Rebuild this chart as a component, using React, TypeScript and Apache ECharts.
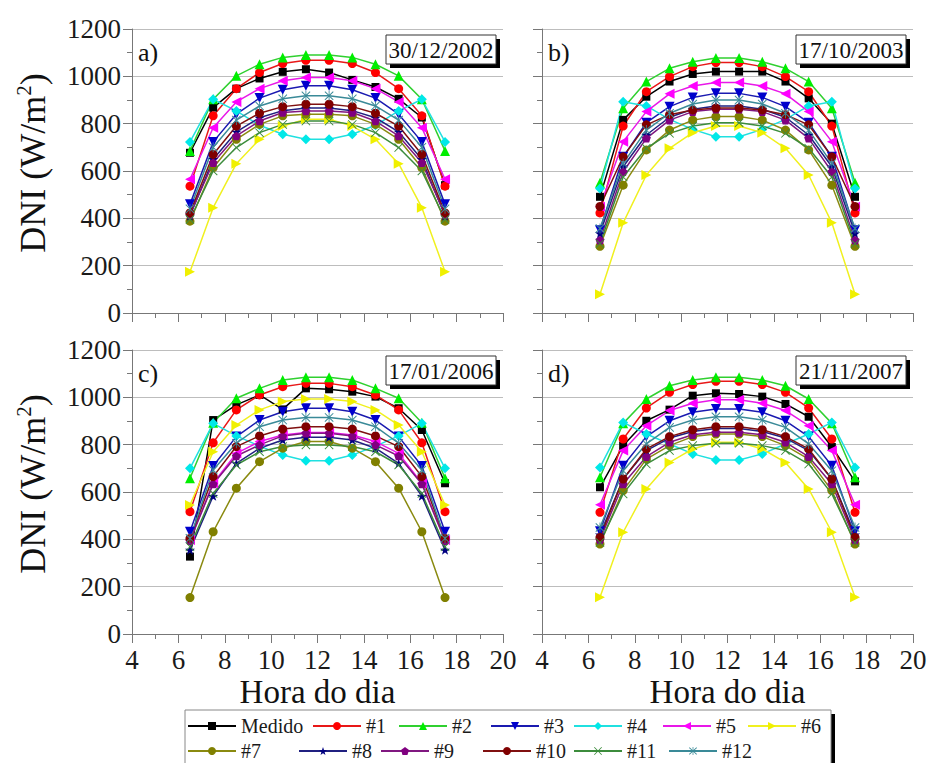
import React, { useEffect, useRef } from 'react';
import * as echarts from 'echarts';

// ---------------- data ----------------
const hours = [6.5, 7.5, 8.5, 9.5, 10.5, 11.5, 12.5, 13.5, 14.5, 15.5, 16.5, 17.5];
const seriesNames = ['Medido', '#1', '#2', '#3', '#4', '#5', '#6', '#7', '#8', '#9', '#10', '#11', '#12'];
const panelDates = ['30/12/2002', '17/10/2003', '17/01/2006', '21/11/2007'];
const panelLetters = ['a)', 'b)', 'c)', 'd)'];
const xTickMin = 4;
const xTickMax = 20;
const yTickMax = 1200;

// rows follow seriesNames order
const panelA = [
  [677, 868, 948, 991, 1019, 1030, 1016, 985, 955, 905, 826, 540],
  [536, 833, 948, 1016, 1054, 1068, 1068, 1054, 1016, 948, 833, 536],
  [685, 903, 1002, 1051, 1080, 1090, 1090, 1080, 1051, 1002, 903, 685],
  [459, 723, 840, 908, 943, 960, 960, 943, 908, 840, 723, 459],
  [723, 903, 854, 793, 755, 734, 734, 755, 793, 854, 903, 723],
  [565, 783, 892, 948, 981, 995, 995, 981, 948, 892, 783, 565],
  [174, 445, 631, 734, 790, 819, 819, 790, 734, 631, 445, 174],
  [388, 614, 734, 797, 833, 840, 840, 833, 797, 734, 614, 388],
  [410, 650, 765, 825, 855, 866, 866, 855, 825, 765, 650, 410],
  [416, 635, 748, 811, 847, 854, 854, 847, 811, 748, 635, 416],
  [423, 670, 790, 844, 872, 882, 882, 872, 844, 790, 670, 423],
  [395, 600, 699, 762, 797, 811, 811, 797, 762, 699, 600, 395],
  [440, 700, 815, 875, 905, 918, 918, 905, 875, 815, 700, 440],
];

const panelB = [
  [491, 816, 914, 978, 1010, 1020, 1020, 1020, 978, 907, 800, 491],
  [423, 790, 935, 999, 1041, 1058, 1058, 1041, 999, 935, 790, 423],
  [550, 865, 978, 1034, 1062, 1077, 1077, 1062, 1034, 978, 865, 550],
  [350, 660, 804, 872, 911, 928, 928, 911, 872, 804, 660, 350],
  [526, 893, 875, 818, 776, 745, 745, 776, 818, 875, 893, 526],
  [449, 724, 851, 926, 959, 974, 974, 959, 926, 851, 724, 449],
  [79, 381, 583, 696, 762, 790, 790, 762, 696, 583, 381, 79],
  [282, 540, 689, 773, 815, 830, 830, 815, 773, 689, 540, 282],
  [336, 618, 752, 827, 861, 875, 875, 861, 827, 752, 618, 336],
  [308, 597, 738, 815, 851, 861, 861, 851, 815, 738, 597, 308],
  [450, 660, 795, 838, 858, 866, 866, 858, 838, 795, 660, 450],
  [293, 575, 696, 759, 790, 804, 804, 790, 759, 696, 575, 293],
  [357, 632, 773, 844, 883, 900, 900, 883, 844, 773, 632, 357],
];

const panelC = [
  [327, 904, 968, 1010, 949, 1038, 1034, 1024, 1003, 954, 862, 637],
  [517, 808, 947, 1010, 1045, 1059, 1059, 1045, 1010, 947, 808, 517],
  [658, 893, 996, 1038, 1073, 1085, 1085, 1073, 1038, 996, 893, 658],
  [432, 710, 834, 904, 939, 954, 954, 939, 904, 834, 710, 432],
  [700, 890, 837, 794, 756, 732, 732, 756, 794, 837, 890, 700],
  [397, 637, 763, 813, 841, 851, 851, 841, 813, 763, 637, 397],
  [545, 770, 883, 947, 982, 993, 993, 982, 947, 883, 770, 545],
  [154, 432, 616, 728, 785, 813, 813, 785, 728, 616, 432, 154],
  [355, 583, 721, 785, 820, 831, 831, 820, 785, 721, 583, 355],
  [394, 634, 752, 799, 837, 848, 848, 837, 799, 752, 634, 394],
  [404, 665, 792, 837, 866, 876, 876, 866, 837, 792, 665, 404],
  [369, 594, 714, 770, 792, 799, 799, 792, 770, 714, 594, 369],
  [404, 693, 806, 876, 904, 915, 915, 904, 876, 806, 693, 404],
];

const panelD = [
  [620, 796, 901, 948, 1007, 1017, 1014, 1003, 972, 918, 790, 645],
  [514, 824, 955, 1021, 1054, 1068, 1068, 1054, 1021, 955, 824, 514],
  [662, 890, 993, 1049, 1073, 1085, 1085, 1073, 1049, 993, 890, 662],
  [434, 711, 834, 901, 937, 951, 951, 937, 901, 834, 711, 434],
  [704, 894, 845, 803, 761, 735, 735, 761, 803, 845, 894, 704],
  [546, 775, 880, 944, 975, 990, 990, 975, 944, 880, 775, 546],
  [155, 430, 613, 725, 782, 810, 810, 782, 725, 613, 430, 155],
  [380, 606, 739, 796, 834, 845, 845, 834, 796, 739, 606, 380],
  [420, 655, 775, 828, 856, 868, 868, 856, 828, 775, 655, 420],
  [397, 634, 749, 810, 842, 852, 852, 842, 810, 749, 634, 397],
  [408, 655, 782, 834, 863, 876, 876, 863, 834, 782, 655, 408],
  [387, 592, 718, 775, 796, 806, 806, 796, 775, 718, 592, 387],
  [450, 690, 803, 873, 904, 918, 918, 904, 873, 803, 690, 450],
];

// ---------------- styles ----------------
const FONT = "'Liberation Serif', 'Times New Roman', Times, serif";
const colors = ['#000000', '#ff0000', '#00ee00', '#0000cc', '#00e8e8', '#ff00ff', '#f0f000', '#808000', '#000080', '#800080', '#800000', '#3c8c3c', '#3a8a98'];
const lineColors = ['#000000', '#e81818', '#30d030', '#1a1ab0', '#20e0e0', '#e818e8', '#f0f020', '#8a8a10', '#202080', '#801880', '#801010', '#3c8c3c', '#3a8a98'];
const STAR = 'path://M0,-10L2.35,-3.24L9.51,-3.09L3.8,1.24L5.88,8.09L0,4L-5.88,8.09L-3.8,1.24L-9.51,-3.09L-2.35,-3.24Z';
const PENTA = 'path://M0,-10L9.51,-3.09L5.88,8.09L-5.88,8.09L-9.51,-3.09Z';
const CROSS = 'path://M-10,-8.5L-8.5,-10L0,-1.5L8.5,-10L10,-8.5L1.5,0L10,8.5L8.5,10L0,1.5L-8.5,10L-10,8.5L-1.5,0Z';
const ASTER = 'path://M-10,-8.5L-8.5,-10L0,-1.5L8.5,-10L10,-8.5L1.5,0L10,8.5L8.5,10L0,1.5L-8.5,10L-10,8.5L-1.5,0Z M-0.9,-11L0.9,-11L0.9,11L-0.9,11Z';
const symbols = ['rect', 'circle', 'triangle', 'triangle', 'diamond', 'triangle', 'triangle', 'circle', STAR, PENTA, 'circle', CROSS, ASTER];
const rotations = [0, 0, 0, 180, 0, 90, -90, 0, 0, 0, 0, 0, 0];
const symbolSizes = [8, 9, 10, 10, 10, 10, 10, 9, 10, 9, 9, 9, 10];

const GRIDS = [
  { left: 132, top: 29, width: 371, height: 284 },
  { left: 542, top: 29, width: 371, height: 284 },
  { left: 132, top: 350, width: 371, height: 284 },
  { left: 542, top: 350, width: 371, height: 284 },
];

// legend item positions (line start x, row centre y)
const legendPos = [
  [187, 726], [312, 726], [398, 726], [490, 726], [573, 726], [662, 726], [747, 726],
  [187, 751], [298, 751], [380, 751], [482, 751], [573, 751], [668, 751],
];

function buildOption() {
  const panels = [panelA, panelB, panelC, panelD];
  const series: any[] = [];
  panels.forEach((pd, pi) => {
    pd.forEach((row, si) => {
      series.push({
        type: 'line',
        name: seriesNames[si],
        xAxisIndex: pi,
        yAxisIndex: pi,
        data: row.map((v, i) => [hours[i], v]),
        symbol: symbols[si],
        symbolSize: symbolSizes[si],
        symbolRotate: rotations[si],
        symbolKeepAspect: true,
        itemStyle: { color: colors[si] },
        lineStyle: { color: lineColors[si], width: 1.5 },
        z: 2,
      });
    });
  });

  const xAxis = GRIDS.map((_, i) => ({
    type: 'value',
    gridIndex: i,
    min: xTickMin,
    max: xTickMax,
    interval: 2,
    axisLine: { show: true, onZero: false, lineStyle: { color: '#777', width: 1 } },
    axisTick: { show: true, length: 9, lineStyle: { color: '#777' } },
    minorTick: { show: true, splitNumber: 2, length: 5, lineStyle: { color: '#777' } },
    splitLine: { show: false },
    axisLabel: {
      show: i >= 2,
      margin: 12,
      fontFamily: FONT,
      fontSize: 27,
      color: '#1a1a1a',
      formatter: (v: number) => String(v),
    },
  }));

  const yAxis = GRIDS.map((_, i) => ({
    type: 'value',
    gridIndex: i,
    min: 0,
    max: yTickMax,
    interval: 200,
    axisLine: { show: true, lineStyle: { color: '#777', width: 1 } },
    axisTick: { show: true, length: 9, lineStyle: { color: '#777' } },
    minorTick: { show: true, splitNumber: 2, length: 5, lineStyle: { color: '#777' } },
    splitLine: { show: true, lineStyle: { color: '#bdbdbd', width: 1 } },
    axisLabel: {
      show: i % 2 === 0,
      margin: 11,
      fontFamily: FONT,
      fontSize: 27,
      color: '#1a1a1a',
      formatter: (v: number) => String(v),
    },
  }));

  const legend = seriesNames.map((name, i) => ({
    data: [name],
    left: legendPos[i][0],
    top: legendPos[i][1] - 10,
    padding: 0,
    itemWidth: 48,
    itemHeight: 10,
    selectedMode: false,
    z: 10,
    textStyle: { fontFamily: FONT, fontSize: 20, color: '#1a1a1a', lineHeight: 20 },
  }));

  const graphic: any[] = [];
  // legend frame
  graphic.push({ type: 'rect', z: 1, shape: { x: 189, y: 714, width: 646, height: 60 }, style: { fill: '#000' } });
  graphic.push({ type: 'rect', z: 1, shape: { x: 185, y: 710, width: 646, height: 60 }, style: { fill: '#fff', stroke: '#888', lineWidth: 1 } });

  GRIDS.forEach((g, i) => {
    const bx = g.left + g.width - 117;
    const by = g.top + 6;
    graphic.push({ type: 'rect', z: 20, shape: { x: bx + 4, y: by + 4, width: 110, height: 29 }, style: { fill: '#000' } });
    graphic.push({ type: 'rect', z: 20, shape: { x: bx, y: by, width: 110, height: 29 }, style: { fill: '#fff', stroke: '#333', lineWidth: 1 } });
    graphic.push({
      type: 'text', z: 21, x: bx + 55, y: by + 15,
      style: { text: panelDates[i], fontFamily: FONT, fontSize: 23, fill: '#111', align: 'center', verticalAlign: 'middle' },
    });
    graphic.push({
      type: 'text', z: 21, x: g.left + 6, y: g.top + 23,
      style: { text: panelLetters[i], fontFamily: FONT, fontSize: 26, fill: '#111', align: 'left', verticalAlign: 'middle' },
    });
  });

  // y axis titles
  [GRIDS[0], GRIDS[2]].forEach((g) => {
    graphic.push({
      type: 'text', z: 21, x: 33, y: g.top + g.height / 2 - 8, rotation: Math.PI / 2,
      style: {
        text: 'DNI (W/m{sup|2})',
        fontFamily: FONT, fontSize: 36, fill: '#111', align: 'center', verticalAlign: 'middle',
        rich: { sup: { fontFamily: FONT, fontSize: 21, fill: '#111', verticalAlign: 'top', lineHeight: 40 } },
        lineHeight: 40,
      },
    });
  });
  // x axis titles
  [GRIDS[2], GRIDS[3]].forEach((g) => {
    graphic.push({
      type: 'text', z: 21, x: g.left + g.width / 2, y: 692,
      style: { text: 'Hora do dia', fontFamily: FONT, fontSize: 33, fill: '#111', align: 'center', verticalAlign: 'middle' },
    });
  });

  return {
    animation: false,
    backgroundColor: '#fff',
    textStyle: { fontFamily: FONT },
    grid: GRIDS.map((g) => ({ ...g, containLabel: false })),
    xAxis,
    yAxis,
    legend,
    graphic,
    series,
  };
}

export default function App() {
  const ref = useRef<HTMLDivElement>(null);
  useEffect(() => {
    if (!ref.current) return;
    const chart = echarts.init(ref.current, undefined, { renderer: 'svg' });
    chart.setOption(buildOption() as any);
    return () => chart.dispose();
  }, []);
  return <div ref={ref} style={{ position: 'fixed', left: 0, top: 0, width: 930, height: 763 }} />;
}
